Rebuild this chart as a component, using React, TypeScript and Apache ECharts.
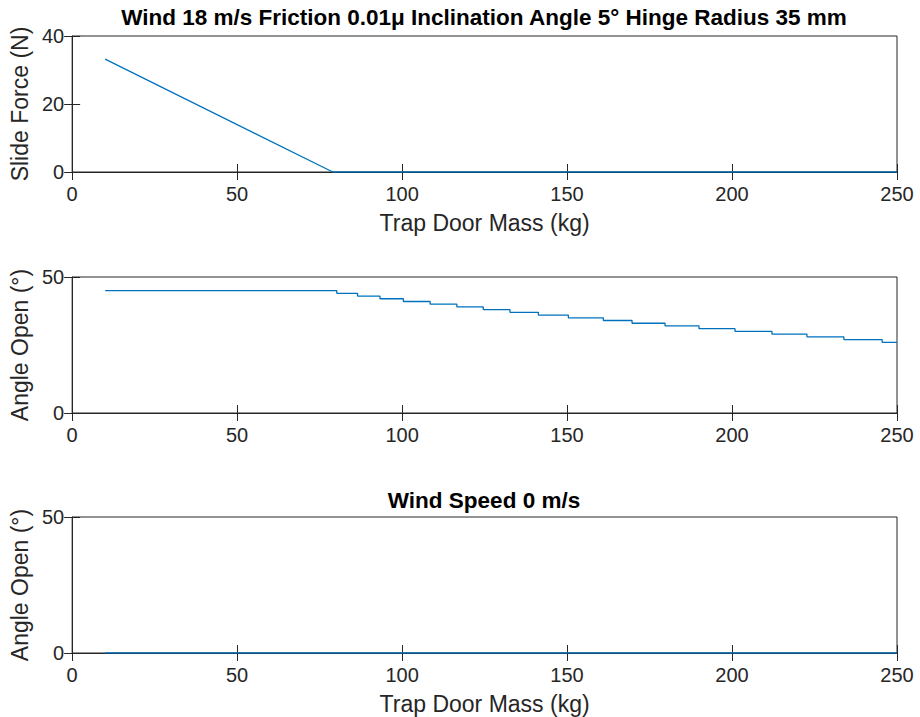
import React, { useEffect, useRef } from "react";
import * as echarts from "echarts";

const xTicksMin = 0;
const xTicksMax = 250;
const xTickInterval = 50;

// Plot 1: slide force vs trap door mass
const sideMass = [10, 79, 250];
const sideForce = [33.2, 0, 0];

// Plot 2: angle open (steps) vs mass
const angleMass = [10, 80.2, 86.5, 93.3, 100.4, 108.5, 116.6, 124.6, 132.7, 141.3, 150.4, 161, 169.7, 179.7, 190, 200.9, 212.1, 222.7, 233.9, 245.5, 250];
const angleValue = [45, 44, 43, 42, 41, 40, 39, 38, 37, 36, 35, 34, 33, 32, 31, 30, 29, 28, 27, 26, 26];

// Plot 3: wind speed 0
const zeroMass = [10, 250];
const zeroAngle = [0, 0];

const title1 = "Wind 18 m/s Friction 0.01μ Inclination Angle 5° Hinge Radius 35 mm";
const title3 = "Wind Speed 0 m/s";
const xName = "Trap Door Mass (kg)";
const yName1 = "Slide Force (N)";
const yName2 = "Angle Open (°)";

const FONT = "Arial, 'Liberation Sans', Helvetica, sans-serif";
const TXT = "#262626";
const BLUE = "#0072BD";

export default function App() {
  const ref = useRef<HTMLDivElement>(null);
  useEffect(() => {
    document.body.style.margin = "0";
    const chart = echarts.init(ref.current!, null, { renderer: "svg" });
    const grids = [
      { left: 72, right: 23, top: 36, height: 136 },
      { left: 72, right: 23, top: 277, height: 136 },
      { left: 72, right: 23, top: 517, height: 136 },
    ].map((g) => ({ ...g, show: true, borderColor: TXT, borderWidth: 1, backgroundColor: "#fff" }));

    const yRanges = [
      { min: 0, max: 40, interval: 20, name: yName1 },
      { min: 0, max: 50, interval: 50, name: yName2 },
      { min: 0, max: 50, interval: 50, name: yName2 },
    ];
    const xNames = [xName, "", xName];

    const tick = { show: true, inside: true, length: 8, lineStyle: { color: TXT, width: 1 } };
    const xAxes: any[] = [];
    const yAxes: any[] = [];
    for (let i = 0; i < 3; i++) {
      xAxes.push({
        type: "value", gridIndex: i, position: "bottom",
        min: xTicksMin, max: xTicksMax, interval: xTickInterval,
        axisLine: { show: true, lineStyle: { color: TXT, width: 1 } },
        axisTick: tick, splitLine: { show: false },
        axisLabel: { color: TXT, fontSize: 20, fontFamily: FONT, margin: 12 },
        name: xNames[i], nameLocation: "middle", nameGap: 39,
        nameTextStyle: { color: TXT, fontSize: 23, fontFamily: FONT },
      });
      yAxes.push({
        type: "value", gridIndex: i, position: "left",
        min: yRanges[i].min, max: yRanges[i].max, interval: yRanges[i].interval,
        axisLine: { show: true, lineStyle: { color: TXT, width: 1 } },
        axisTick: tick, splitLine: { show: false },
        axisLabel: { color: TXT, fontSize: 20, fontFamily: FONT, margin: 8 },
        name: yRanges[i].name, nameLocation: "middle", nameGap: 39,
        nameTextStyle: { color: TXT, fontSize: 23, fontFamily: FONT },
      });
    }
    for (let i = 0; i < 3; i++) {
      xAxes.push({
        type: "value", gridIndex: i, position: "top",
        min: xTicksMin, max: xTicksMax, interval: xTickInterval,
        axisLine: { show: false }, axisTick: tick, axisLabel: { show: false }, splitLine: { show: false },
      });
      yAxes.push({
        type: "value", gridIndex: i, position: "right",
        min: yRanges[i].min, max: yRanges[i].max, interval: yRanges[i].interval,
        axisLine: { show: false }, axisTick: tick, axisLabel: { show: false }, splitLine: { show: false },
      });
    }

    const lineBase = {
      type: "line", showSymbol: false, symbol: "none",
      lineStyle: { color: BLUE, width: 1.3 }, itemStyle: { color: BLUE },
    };

    chart.setOption({
      animation: false,
      backgroundColor: "#fff",
      grid: grids,
      xAxis: xAxes,
      yAxis: yAxes,
      graphic: [
        {
          type: "text", x: 484, y: 17,
          style: { text: title1, textAlign: "center", textVerticalAlign: "middle", font: `bold 22.5px ${FONT}`, fill: "#000" },
        },
        {
          type: "text", x: 484, y: 500,
          style: { text: title3, textAlign: "center", textVerticalAlign: "middle", font: `bold 22.5px ${FONT}`, fill: "#000" },
        },
      ],
      series: [
        { ...lineBase, xAxisIndex: 0, yAxisIndex: 0, data: sideMass.map((m, i) => [m, sideForce[i]]) },
        { ...lineBase, xAxisIndex: 1, yAxisIndex: 1, step: "end", data: angleMass.map((m, i) => [m, angleValue[i]]) },
        { ...lineBase, xAxisIndex: 2, yAxisIndex: 2, data: zeroMass.map((m, i) => [m, zeroAngle[i]]) },
      ],
    });
    return () => chart.dispose();
  }, []);
  return <div ref={ref} style={{ width: 920, height: 717 }} />;
}
